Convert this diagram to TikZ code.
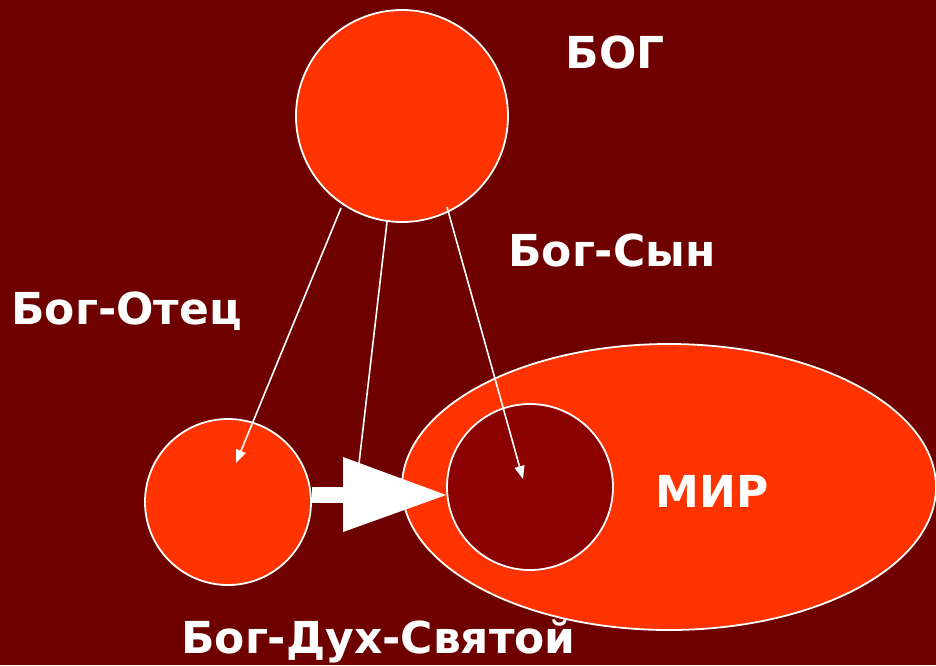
\documentclass[tikz,border=0pt]{standalone}
\usepackage{fontspec}
\setmainfont{DejaVu Sans}
\usetikzlibrary{shapes.geometric,arrows.meta}
\definecolor{bgred}{RGB}{110,0,0}
\definecolor{orangered}{RGB}{255,51,0}
\definecolor{innerred}{RGB}{139,0,0}
\begin{document}
\begin{tikzpicture}[x=1pt,y=-1pt,
  ball/.style={circle,draw=white,line width=1.8pt,fill=orangered,inner sep=0pt},
  thinarrow/.style={draw=white,line width=1.6pt,-{Triangle[length=13pt,width=10pt]}},
  thinline/.style={draw=white,line width=1.6pt},
  lbl/.style={text=white,font=\bfseries\fontsize{44}{44}\selectfont,anchor=base,inner sep=0pt}]
\fill[bgred] (0,0) rectangle (936,665);
\useasboundingbox (0,0) rectangle (936,665);
% shapes
\node[ball,minimum size=212pt] (god) at (402,116) {};
\node[ball,minimum size=166pt] (father) at (228,502) {};
\node[ellipse,draw=white,line width=1.8pt,fill=orangered,inner sep=0pt,minimum width=534pt,minimum height=286pt] (world) at (669,487) {};
\node[circle,draw=white,line width=1.8pt,fill=innerred,inner sep=0pt,minimum size=166pt] (son) at (530,487) {};
% endpoints
\coordinate (fend) at (236,463);
\coordinate (send) at (523,479);
\coordinate (hend) at (358,472);
\coordinate (fstart) at (341,208);
\coordinate (hstart) at (387,222);
\coordinate (sstart) at (447,207);
% thin connectors
\draw[thinarrow] (fstart) -- (fend);
\draw[thinline] (hstart) -- (hend);
\draw[thinarrow] (sstart) -- (send);
% big arrow from father to son
\fill[white] (father.east |- 0,487) rectangle (345,503);
\coordinate (tip) at (son.west |- 0,495);
\fill[white] (343,457) -- (tip) -- (343,532) -- cycle;
% labels
\node[lbl] (lgod) at (615,68) {БОГ};
\node[lbl] (lson) at (612,266) {Бог-Сын};
\node[lbl] (lfather) at (126.5,324) {Бог-Отец};
\node[lbl] (lworld) at (712,507) {МИР};
\node[lbl] (lspirit) at (378.5,653) {Бог-Дух-Святой};
\end{tikzpicture}
\end{document}
